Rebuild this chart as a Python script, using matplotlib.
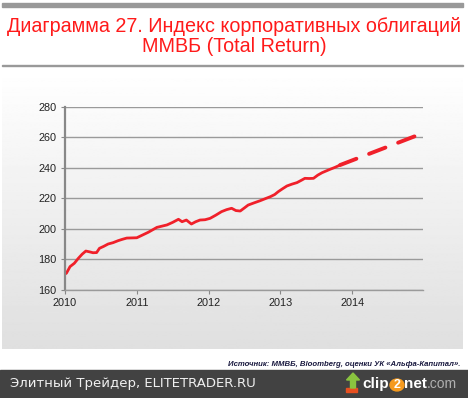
import numpy as np
import matplotlib
matplotlib.use("Agg")
import matplotlib.pyplot as plt
from matplotlib.patches import Rectangle, Circle, FancyArrow

# data: fractional years since 2010 -> index value
t_fact = [0.0, 0.02, 0.07, 0.13, 0.185, 0.24, 0.29, 0.34, 0.39, 0.44, 0.48, 0.54,
          0.60, 0.67, 0.74, 0.80, 0.86, 0.93, 1.0, 1.08, 1.16, 1.22, 1.28, 1.35,
          1.42, 1.50, 1.58, 1.63, 1.69, 1.76, 1.82, 1.88, 1.95, 2.02, 2.10, 2.18,
          2.25, 2.32, 2.38, 2.44, 2.50, 2.55, 2.63, 2.72, 2.80, 2.86, 2.92, 2.97,
          3.03, 3.09, 3.16, 3.23, 3.29, 3.34, 3.40, 3.46, 3.52, 3.58, 3.64, 3.69,
          3.76, 3.83]
v_fact = [170.5, 171.0, 175.3, 177.5, 180.7, 183.5, 185.5, 185.0, 184.4, 184.5, 187.3, 188.6,
          190.1, 191.0, 192.3, 193.2, 194.0, 194.1, 194.2, 196.0, 197.8, 199.4, 201.0, 201.8,
          202.6, 204.3, 206.3, 204.7, 205.8, 203.2, 204.7, 205.8, 206.0, 206.9, 209.0, 211.3,
          212.6, 213.5, 212.0, 211.7, 213.8, 215.6, 217.0, 218.5, 220.0, 221.1, 222.5, 224.4,
          226.3, 228.1, 229.3, 230.3, 231.8, 233.1, 233.0, 233.1, 235.2, 236.8, 238.0, 239.0,
          240.3, 241.8]
t_fcst = [3.83, 4.99]
v_fcst = [241.8, 262.8]

years = [2010, 2011, 2012, 2013, 2014]
yticks = [160, 180, 200, 220, 240, 260, 280]

W, H = 468, 398
fig = plt.figure(figsize=(W / 100, H / 100), dpi=100)
fig.patch.set_facecolor("white")

def px(x0, y0, x1, y1):
    # pixel box (top-left origin) -> figure rect
    return [x0 / W, 1 - y1 / H, (x1 - x0) / W, (y1 - y0) / H]

# background panel with gradient
bg = fig.add_axes(px(2, 70, 463, 349))
grad = np.linspace(1.0, 0.875, 256).reshape(-1, 1)
bg.imshow(grad, cmap="gray", vmin=0, vmax=1, aspect="auto", extent=[0, 1, 0, 1])
bg.set_axis_off()

# top bar, separator, footer
fig.patches.append(Rectangle((2 / W, 1 - 7 / H), 461 / W, 4 / H, transform=fig.transFigure,
                             color="#999999", zorder=0))
fig.patches.append(Rectangle((2 / W, 1 - 66 / H), 461 / W, 1 / H, transform=fig.transFigure,
                             color="#999999", zorder=0))
fig.patches.append(Rectangle((0, 0), 1, 28 / H, transform=fig.transFigure,
                             color="#424242", zorder=0))

fig.text(0.5, 1 - 26 / H, "Диаграмма 27. Индекс корпоративных облигаций",
         ha="center", va="center", color="#ff1a1a", fontsize=14.2, family="Liberation Sans")
fig.text(0.5, 1 - 46 / H, "ММВБ (Total Return)",
         ha="center", va="center", color="#ff1a1a", fontsize=14.2, family="Liberation Sans")

fig.text(460 / W, 1 - 364 / H, "Источник: ММВБ, Bloomberg, оценки УК «Альфа-Капитал».",
         ha="right", va="center", color="#1a1a40", fontsize=5.6, style="italic",
         weight="bold", family="Liberation Sans")

fig.text(10 / W, 1 - 384 / H, "Элитный Трейдер, ELITETRADER.RU",
         ha="left", va="center", color="#f0f0f0", fontsize=9.5, family="DejaVu Sans")

# clip2net logo
fig.patches.append(Rectangle((346 / W, 1 - 392 / H), 11 / W, 4 / H, transform=fig.transFigure,
                             color="#e85020", zorder=1))
fig.patches.append(FancyArrow(353 / W, 1 - 388 / H, 0, 8 / H, width=5 / W,
                              head_width=13 / W, head_length=7 / H,
                              transform=fig.transFigure, color="#8ac43f", zorder=1))
fig.text(362 / W, 1 - 384 / H, "clip", ha="left", va="center", color="white",
         fontsize=11, weight="bold", family="Liberation Sans")
fig.patches.append(Circle((397 / W, 1 - 385 / H), 7 / W, transform=fig.transFigure,
                          color="#f59a1e", zorder=1))
fig.text(397 / W, 1 - 385 / H, "2", ha="center", va="center", color="white",
         fontsize=9, weight="bold", family="Liberation Sans")
fig.text(404 / W, 1 - 384 / H, "net", ha="left", va="center", color="white",
         fontsize=11, weight="bold", family="Liberation Sans")
fig.text(427 / W, 1 - 384 / H, ".com", ha="left", va="center", color="#b0b0b0",
         fontsize=10, family="Liberation Sans")

# chart
ax = fig.add_axes(px(65, 106.7, 423, 290))
ax.patch.set_alpha(0)
ax.plot(2010 + np.array(t_fact), v_fact, color="#f0202a", lw=2.0, solid_capstyle="round")
ax.plot(2010 + np.array(t_fcst), v_fcst, color="#f0202a", lw=2.8,
        dashes=(4.5, 3.5), dash_capstyle="round")

ax.set_xlim(2010, 2014.985)
ax.set_ylim(160, 280)
ax.set_xticks(years)
ax.set_xticklabels([str(y) for y in years])
ax.set_yticks(yticks)
ax.grid(axis="y", color="#9a9a9a", lw=1.0)
ax.set_axisbelow(True)
for s in ["top", "right"]:
    ax.spines[s].set_visible(False)
ax.spines["left"].set_color("#888888")
ax.spines["left"].set_linewidth(1.6)
ax.spines["bottom"].set_color("#9a9a9a")
ax.spines["bottom"].set_linewidth(1.0)
ax.tick_params(axis="both", direction="out", length=3, width=0.8, color="#888888",
               labelsize=7.8, labelcolor="#222222", pad=3)
for lab in ax.get_xticklabels() + ax.get_yticklabels():
    lab.set_family("Liberation Sans")

fig.savefig("out.png", dpi=100)
